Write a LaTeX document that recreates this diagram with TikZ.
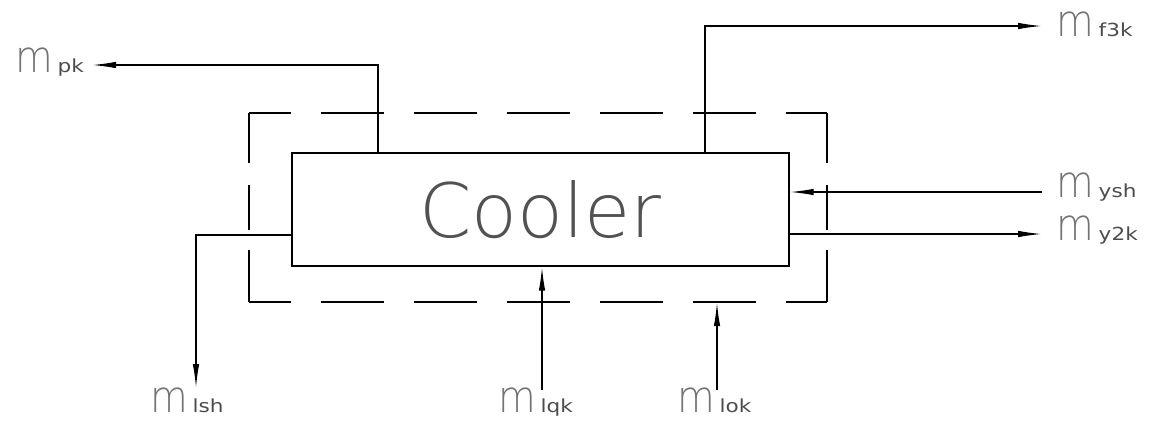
\documentclass[tikz,border=0pt]{standalone}
\usepackage{fontspec}
\usepackage{graphicx}
\newfontfamily\thinfont{DejaVu Sans ExtraLight}
\newfontfamily\subfont{DejaVu Sans}
\usetikzlibrary{arrows.meta}
\definecolor{mgray}{gray}{0.45}
\definecolor{sgray}{gray}{0.30}
\definecolor{tgray}{gray}{0.32}
\newcommand{\mlab}[1]{{\color{mgray}\fontsize{44}{44}\thinfont\scalebox{0.88}[1]{m}}\hspace{5pt}{\color{sgray}\fontsize{18}{18}\subfont\scalebox{1.2}[1]{#1}}}
\tikzset{
  flow/.style={line width=1.4pt, -{Latex[length=24pt,width=6.5pt]}},
  hdash/.style={line width=1.6pt, dash pattern=on 63pt off 30pt, dash phase=21pt},
  vdash/.style={line width=1.6pt, dash pattern=on 50pt off 22pt on 45pt off 20pt on 60pt off 20pt},
  procbox/.style={draw, line width=1.4pt, minimum width=497pt, minimum height=113pt, inner sep=0pt},
  cvbox/.style={minimum width=578pt, minimum height=189pt, inner sep=0pt},
  lbl/.style={anchor=base west, inner sep=0pt, outer sep=0pt},
}
\begin{document}
\begin{tikzpicture}[x=1pt,y=-1pt]
\useasboundingbox (0,0) rectangle (1153,421);
\node[cvbox] (cv) at (538,207.5) {};
\draw[hdash] (cv.north west) -- (cv.north east);
\draw[hdash] (cv.south west) -- (cv.south east);
\draw[vdash] (cv.north west) -- (cv.south west);
\draw[vdash] (cv.north east) -- (cv.south east);
\node[procbox] (cooler) at (540.5,209.5) {\color{tgray}\fontsize{75}{75}\thinfont Cooler};
% labels
\node[lbl] (pk)  at (15,72)   {\mlab{pk}};
\node[lbl] (f3k) at (1056,36) {\mlab{f3k}};
\node[lbl] (ysh) at (1056,197) {\mlab{ysh}};
\node[lbl] (y2k) at (1056,240) {\mlab{y2k}};
\node[lbl] (lsh) at (150,412) {\mlab{lsh}};
\node[lbl] (lqk) at (498,412) {\mlab{lqk}};
\node[lbl] (lok) at (677,412) {\mlab{lok}};
% free ends
\coordinate (pkC) at (378,65);
\coordinate (pkT) at (92,65);
\coordinate (f3C) at (705,26);
\coordinate (f3T) at (1042,26);
\coordinate (yshS) at (1042,192);
\coordinate (y2T) at (1042,234);
\coordinate (lshC) at (196,235);
\coordinate (lshT) at (196,388);
\coordinate (lqS) at (542,390);
\coordinate (loS) at (717,390);
% connectors
\draw[flow] (cooler.north -| pkC) -- (pkC) -- (pkT);
\draw[flow] (cooler.north -| f3C) -- (f3C) -- (f3T);
\draw[flow] (yshS) -- (cooler.east |- yshS);
\draw[flow] (cooler.east |- y2T) -- (y2T);
\draw[flow] (cooler.west |- lshC) -- (lshC) -- (lshT);
\draw[flow] (lqS) -- (cooler.south -| lqS);
\draw[flow] (loS) -- (cv.south -| loS);
\end{tikzpicture}
\end{document}
